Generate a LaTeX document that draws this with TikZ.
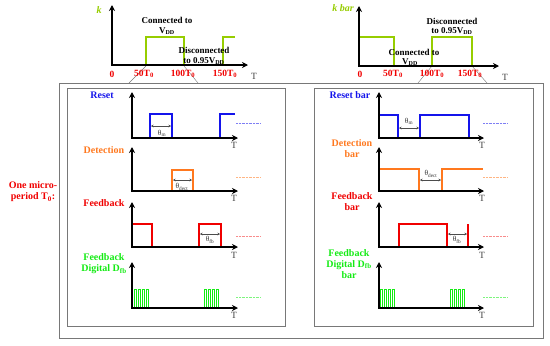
\documentclass[tikz,border=0pt]{standalone}
\usepackage{fontspec}
\setmainfont{Liberation Serif}
\usetikzlibrary{arrows.meta}
\definecolor{cblue}{RGB}{20,20,235}
\definecolor{corange}{RGB}{255,120,30}
\definecolor{cred}{RGB}{240,0,0}
\definecolor{cgreen}{RGB}{20,235,20}
\definecolor{kgreen}{RGB}{150,205,0}
\definecolor{boxgray}{RGB}{120,120,120}
\begin{document}
\begin{tikzpicture}[x=1pt,y=-1pt,
  axisline/.style={line width=1.6pt,black,{Stealth[length=6pt,width=6pt]}-{Stealth[length=6pt,width=6pt]}},
  sig/.style={line width=1.6pt},
  dig/.style={line width=0.8pt,cgreen},
  dots/.style={dash pattern=on 0.8pt off 0.6pt,line width=0.8pt},
  theta/.style={line width=0.4pt,black!70,{Stealth[length=2.5pt,width=2.5pt]}-{Stealth[length=2.5pt,width=2.5pt]}},
  lbl/.style={font=\bfseries\fontsize{10}{11}\selectfont,inner sep=0pt,align=center},
  toplbl/.style={font=\bfseries\fontsize{9}{10}\selectfont,inner sep=0pt,align=center},
  tick/.style={font=\bfseries\fontsize{9.5}{10}\selectfont,inner sep=0pt,text=cred},
  tlbl/.style={font=\fontsize{9.5}{10}\selectfont,inner sep=0pt,text=black!75},
  thl/.style={font=\fontsize{7.5}{8}\selectfont,inner sep=0pt,text=black!80},
  boxline/.style={draw=boxgray,line width=1pt}]
\useasboundingbox (0,0) rectangle (550,346);

% zoom lines
\draw[boxgray,line width=0.4pt] (146,66) -- (129,83);
\draw[boxgray,line width=0.4pt] (184,66) -- (198,83);
\draw[boxgray,line width=0.4pt] (432,66) -- (418,83);
\draw[boxgray,line width=0.4pt] (472,66) -- (487,83);

% boxes
\draw[boxline] (59,83) rectangle (543,338);
\draw[boxline] (67,88) rectangle (285,326);
\draw[boxline] (314,88) rectangle (533,326);

% ---------- top left: k ----------
\draw[sig,kgreen] (146,65) -- (146,37) -- (184,37) -- (184,65);
\draw[sig,kgreen] (223,65) -- (223,37) -- (235,37);
\coordinate (kt) at (112,5);
\coordinate (ko) at (112,65);
\coordinate (kr) at (248,65);
\draw[axisline] (kt) -- (ko) -- (kr);
\node[toplbl,text=kgreen,font=\bfseries\itshape\fontsize{10}{11}\selectfont] (klab) at (99,10) {k};
\node[tick] (k0) at (112,74) {0};
\node[tick] (k50) at (144,74) {50T\textsubscript{0}};
\node[tick] (k100) at (183,74) {100T\textsubscript{0}};
\node[tick] (k150) at (225,74) {150T\textsubscript{0}};
\node[tlbl] (kT) at (254,76) {T};
\node[toplbl] (kc1) at (167,20) {Connected to};
\node[toplbl] (kc2) at (167,31) {V\textsubscript{DD}};
\node[toplbl] (kd1) at (204,50) {Disconnected};
\node[toplbl] (kd2) at (204,61) {to 0.95V\textsubscript{DD}};

% ---------- top right: k bar ----------
\draw[sig,kgreen] (359,37) -- (394,37) -- (394,66);
\draw[sig,kgreen] (432,66) -- (432,37) -- (472,37) -- (472,66);
\coordinate (bt) at (359,6);
\coordinate (bo) at (359,66);
\coordinate (br) at (499,66);
\draw[axisline] (bt) -- (bo) -- (br);
\node[toplbl,text=kgreen,font=\bfseries\itshape\fontsize{10}{11}\selectfont] (kblab) at (343,8) {k bar};
\node[tick] (b0) at (360,74) {0};
\node[tick] (b50) at (393,74) {50T\textsubscript{0}};
\node[tick] (b100) at (432,74) {100T\textsubscript{0}};
\node[tick] (b150) at (470,74) {150T\textsubscript{0}};
\node[tlbl] (bT) at (505,77) {T};
\node[toplbl] (bd1) at (452,21) {Disconnected};
\node[toplbl] (bd2) at (452,31) {to 0.95V\textsubscript{DD}};
\node[toplbl] (bc1) at (414,52) {Connected to};
\node[toplbl] (bc2) at (410,62) {V\textsubscript{DD}};

% ---------- left panel ----------
\node[lbl,text=cred] (micro) at (33,192) {One micro-\\period T\textsubscript{0}:};

% Reset
\draw[sig,cblue] (132,138) -- (150,138) -- (150,114) -- (172,114) -- (172,138) -- (220,138) -- (220,114) -- (235,114);
\draw[axisline] (132,92) -- (132,138) -- (238,138);
\draw[theta] (151,126) -- (171,126);
\node[thl] (th1) at (162,133) {θ\textsubscript{m}};
\draw[dots,cblue!55] (236,123) -- (260,123);
\node[lbl,text=cblue] (l1) at (102,95) {Reset};
\node[tlbl] (t1) at (234,145) {T};

% Detection
\draw[sig,corange] (172,191) -- (172,170) -- (193,170) -- (193,191);
\draw[axisline] (132,147) -- (132,191) -- (238,191);
\draw[theta] (173,180) -- (192,180);
\node[thl] (th2) at (182,187) {θ\textsubscript{dect}};
\draw[dots,corange!55] (236,177) -- (260,177);
\node[lbl,text=corange] (l2) at (104,150) {Detection};
\node[tlbl] (t2) at (234,198) {T};

% Feedback
\draw[sig,cred] (132,224) -- (152,224) -- (152,247);
\draw[sig,cred] (199,247) -- (199,224) -- (221,224) -- (221,247);
\draw[axisline] (132,202) -- (132,247) -- (238,247);
\draw[theta] (200,234) -- (220,234);
\node[thl] (th3) at (210,240) {θ\textsubscript{fb}};
\draw[dots,cred!45] (236,236) -- (260,236);
\node[lbl,text=cred] (l3) at (104,203) {Feedback};
\node[tlbl] (t3) at (234,255) {T};

% Feedback digital
\foreach \x in {134,138,142,146,204,208,212,216}
  \draw[dig] (\x,308) -- (\x,289) -- (\x+2.2,289) -- (\x+2.2,308);
\draw[axisline] (132,262) -- (132,308) -- (238,308);
\draw[dots,cgreen!55] (236,297) -- (260,297);
\node[lbl,text=cgreen] (l4) at (104,264) {Feedback\\Digital D\textsubscript{fb}};
\node[tlbl] (t4) at (234,315) {T};

% ---------- right panel ----------
% Reset bar
\draw[sig,cblue] (379,115) -- (398,115) -- (398,138);
\draw[sig,cblue] (420,138) -- (420,115) -- (469,115) -- (469,138);
\draw[axisline] (379,92) -- (379,138) -- (484,138);
\draw[theta] (399,128) -- (419,128);
\node[thl] (th5) at (409,121) {θ\textsubscript{m}};
\draw[dots,cblue!55] (483,123) -- (508,123);
\node[lbl,text=cblue] (l5) at (350,95) {Reset bar};
\node[tlbl] (t5) at (482,145) {T};

% Detection bar
\draw[sig,corange] (379,169) -- (419,169) -- (419,191);
\draw[sig,corange] (442,191) -- (442,169) -- (483,169);
\draw[axisline] (379,147) -- (379,191) -- (484,191);
\draw[theta] (420,180) -- (441,180);
\node[thl] (th6) at (431,174) {θ\textsubscript{dect}};
\draw[dots,corange!55] (483,177) -- (508,177);
\node[lbl,text=corange] (l6) at (352,149) {Detection\\bar};
\node[tlbl] (t6) at (482,198) {T};

% Feedback bar
\draw[sig,cred] (399,247) -- (399,224) -- (447,224) -- (447,247);
\draw[sig,cred] (468,247) -- (468,224);
\draw[axisline] (379,202) -- (379,247) -- (484,247);
\draw[theta] (448,234) -- (467,234);
\node[thl] (th7) at (457,240) {θ\textsubscript{fb}};
\draw[dots,cred!45] (483,236) -- (508,236);
\node[lbl,text=cred] (l7) at (352,202) {Feedback\\bar};
\node[tlbl] (t7) at (482,255) {T};

% Feedback digital bar
\foreach \x in {380,384,388,392,450,454,458,462}
  \draw[dig] (\x,308) -- (\x,289) -- (\x+2.2,289) -- (\x+2.2,308);
\draw[axisline] (379,262) -- (379,308) -- (484,308);
\draw[dots,cgreen!55] (483,297) -- (508,297);
\node[lbl,text=cgreen] (l8) at (349,264) {Feedback\\Digital D\textsubscript{fb}\\bar};
\node[tlbl] (t8) at (482,315) {T};
\end{tikzpicture}
\end{document}
